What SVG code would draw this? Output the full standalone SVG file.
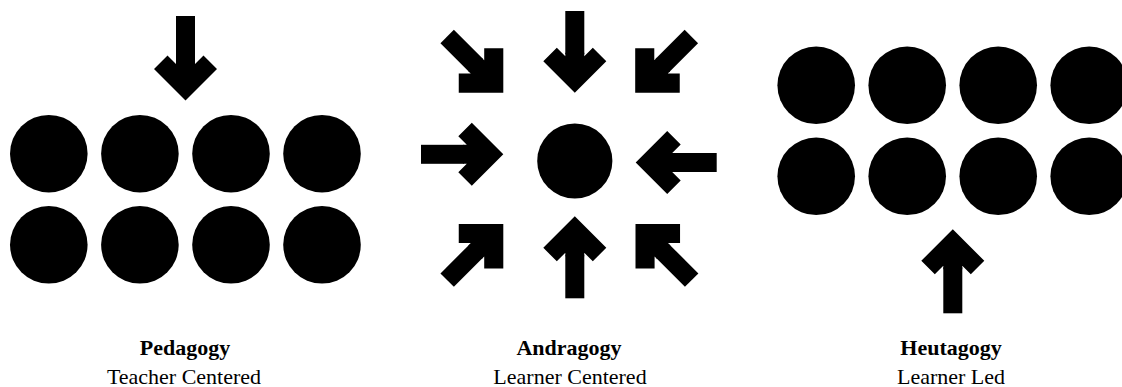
<svg xmlns="http://www.w3.org/2000/svg" xmlns:xlink="http://www.w3.org/1999/xlink" width="1122" height="387" viewBox="0 0 1122 387">
  <style>
    .dot { fill: #000; }
    .arr { fill: #000; }
    .title { font-family: "Liberation Serif", "Times New Roman", serif; font-size: 22px; font-weight: bold; fill: #000; text-anchor: middle; }
    .sub { font-family: "Liberation Serif", "Times New Roman", serif; font-size: 22px; fill: #000; text-anchor: middle; }
  </style>
  <defs>
    <!-- arrow pointing down, tip at origin; shaft length set per use via separate paths -->
    <path id="head" d="M0 0 L-31.5 -31.5 L-18 -45 L-9.5 -36.5 L-9.5 -40 L9.5 -40 L9.5 -36.5 L18 -45 L31.5 -31.5 Z"/>
  </defs>
  <rect width="1122" height="387" fill="#fff"/>

  <g id="pedagogy">
    <g id="pedagogy-learners">
      <circle class="dot" cx="48.8" cy="153.7" r="38.8"/>
      <circle class="dot" cx="139.9" cy="153.7" r="38.8"/>
      <circle class="dot" cx="231" cy="153.7" r="38.8"/>
      <circle class="dot" cx="322" cy="153.7" r="38.8"/>
      <circle class="dot" cx="48.8" cy="244.8" r="38.8"/>
      <circle class="dot" cx="139.9" cy="244.8" r="38.8"/>
      <circle class="dot" cx="231" cy="244.8" r="38.8"/>
      <circle class="dot" cx="322" cy="244.8" r="38.8"/>
    </g>
    <text class="title" x="185" y="355">Pedagogy</text>
    <text class="sub" x="184" y="384">Teacher Centered</text>
  </g>

  <g id="andragogy">
    <circle id="andragogy-learner" class="dot" cx="574.8" cy="161" r="37.6"/>
    <text class="title" x="569" y="355">Andragogy</text>
    <text class="sub" x="570" y="384">Learner Centered</text>
  </g>

  <g id="heutagogy">
    <g id="heutagogy-learners">
      <circle class="dot" cx="816.2" cy="85.3" r="38.8"/>
      <circle class="dot" cx="907.2" cy="85.3" r="38.8"/>
      <circle class="dot" cx="998.2" cy="85.3" r="38.8"/>
      <circle class="dot" cx="1089.2" cy="85.3" r="38.8"/>
      <circle class="dot" cx="816.2" cy="176.3" r="38.8"/>
      <circle class="dot" cx="907.2" cy="176.3" r="38.8"/>
      <circle class="dot" cx="998.2" cy="176.3" r="38.8"/>
      <circle class="dot" cx="1089.2" cy="176.3" r="38.8"/>
    </g>
    <text class="title" x="951" y="355">Heutagogy</text>
    <text class="sub" x="951" y="384">Learner Led</text>
  </g>

  <g id="connectors" class="arr">
    <!-- Pedagogy: teacher to learners -->
    <g transform="translate(185.5 100.5)"><use xlink:href="#head"/><rect x="-9.5" y="-84.5" width="19" height="46"/></g>
    <!-- Andragogy: eight arrows inward -->
    <g transform="translate(574.8 92.7)"><use xlink:href="#head"/><rect x="-9.5" y="-81.7" width="19" height="43"/></g>
    <g transform="translate(574.8 216.3) rotate(180)"><use xlink:href="#head"/><rect x="-9.5" y="-82" width="19" height="43"/></g>
    <g transform="translate(503.3 154.3) rotate(-90)"><use xlink:href="#head"/><rect x="-9.5" y="-82.3" width="19" height="43"/></g>
    <g transform="translate(635.7 162.5) rotate(90)"><use xlink:href="#head"/><rect x="-9.5" y="-81" width="19" height="43"/></g>
    <g transform="translate(503.3 92.7) rotate(-45)"><use xlink:href="#head"/><rect x="-9.5" y="-79.4" width="19" height="41"/></g>
    <g transform="translate(635.2 92.7) rotate(45)"><use xlink:href="#head"/><rect x="-9.5" y="-79.4" width="19" height="41"/></g>
    <g transform="translate(503.3 224) rotate(-135)"><use xlink:href="#head"/><rect x="-9.5" y="-79.4" width="19" height="41"/></g>
    <g transform="translate(635.5 224) rotate(135)"><use xlink:href="#head"/><rect x="-9.5" y="-79.4" width="19" height="41"/></g>
    <!-- Heutagogy: learner-led upward -->
    <g transform="translate(952.8 229.3) rotate(180)"><use xlink:href="#head"/><rect x="-9.5" y="-84" width="19" height="46"/></g>
  </g>
</svg>
